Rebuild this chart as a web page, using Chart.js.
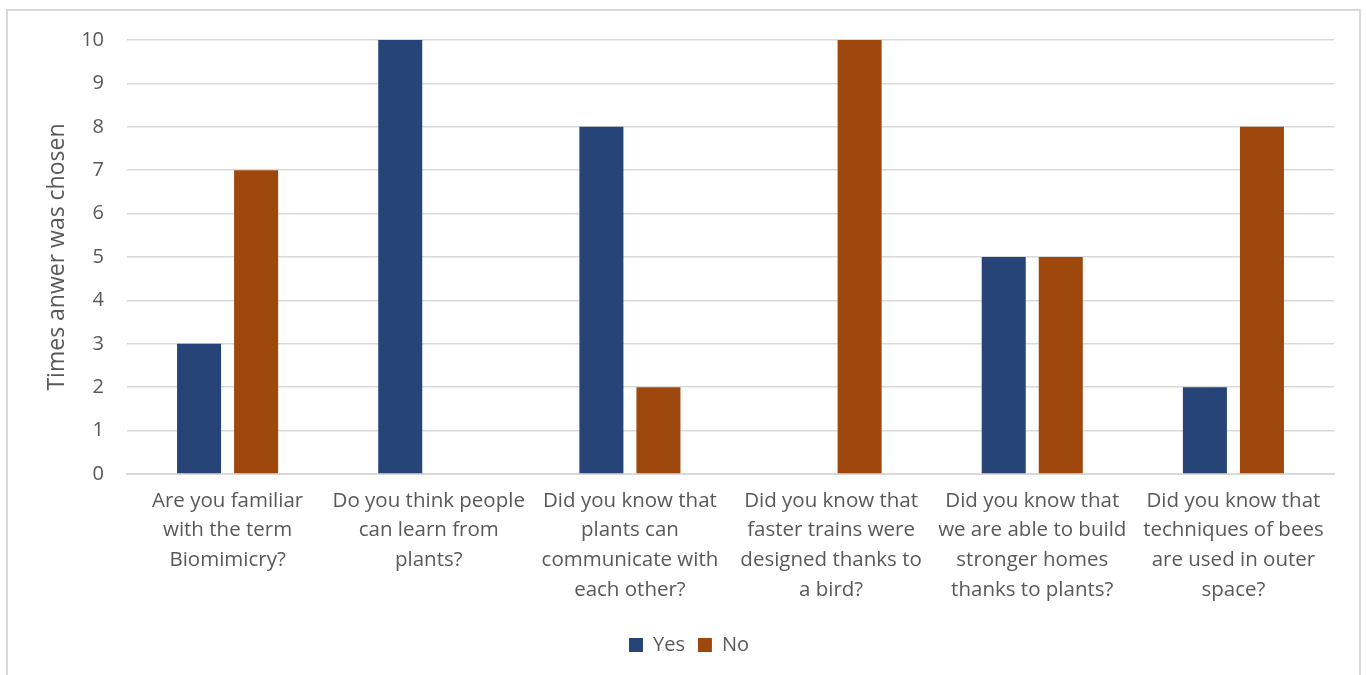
<!DOCTYPE html>
<html>
<head>
<meta charset="utf-8">
<script src="https://cdn.jsdelivr.net/npm/chart.js@4/dist/chart.umd.min.js"></script>
<style>
html,body{margin:0;padding:0;background:#fff;}
#wrap{position:absolute;left:0;top:0;width:1366px;height:675px;}
#frame{position:absolute;left:6px;top:9px;width:1355px;height:700px;border:2px solid #d9d9d9;box-sizing:border-box;}
canvas{position:absolute;left:0;top:0;}
</style>
</head>
<body>
<div id="wrap"><div id="frame"></div><canvas id="c" width="1366" height="675"></canvas></div>
<script>
const categories = [
  ["Are you familiar","with the term","Biomimicry?"],
  ["Do you think people","can learn from","plants?"],
  ["Did you know that","plants can","communicate with","each other?"],
  ["Did you know that","faster trains were","designed thanks to","a bird?"],
  ["Did you know that","we are able to build","stronger homes","thanks to plants?"],
  ["Did you know that","techniques of bees","are used in outer","space?"]
];
const yesValues = [3, 10, 8, 0, 5, 2];
const noValues  = [7, 0, 2, 10, 5, 8];
const seriesNames = ["Yes", "No"];
const yAxisTitle = "Times anwer was chosen";

const FONT = "'Open Sans', Lato, sans-serif";
const TXT = "#595959";
const GRID = "#d9d9d9";

new Chart(document.getElementById('c'), {
  type: 'bar',
  data: {
    labels: categories,
    datasets: [
      {label: seriesNames[0], data: yesValues, backgroundColor: '#264478', categoryPercentage: 0.567, barPercentage: 0.772},
      {label: seriesNames[1], data: noValues, backgroundColor: '#9e480e', categoryPercentage: 0.567, barPercentage: 0.772}
    ]
  },
  options: {
    responsive: false,
    animation: false,
    devicePixelRatio: 1,
    layout: {padding: {left: 44, right: 32, top: 40, bottom: 10}},
    plugins: {
      legend: {
        position: 'bottom',
        labels: {font: {family: FONT, size: 20}, color: TXT, boxWidth: 14, boxHeight: 14, padding: 13}
      },
      tooltip: {enabled: false}
    },
    scales: {
      x: {
        grid: {display: false, drawTicks: false},
        border: {color: GRID, width: 2},
        ticks: {font: {family: FONT, size: 20.5, lineHeight: 1.45}, color: TXT, padding: 12, maxRotation: 0, autoSkip: false},
        afterFit: s => { s.height = 148; }
      },
      y: {
        min: 0, max: 10,
        ticks: {stepSize: 1, font: {family: FONT, size: 20}, color: TXT, padding: 23},
        grid: {color: GRID, lineWidth: 1.5, drawTicks: false},
        border: {display: false},
        title: {display: true, text: yAxisTitle, font: {family: FONT, size: 23}, color: TXT, padding: {top: 0, bottom: 12}},
        afterFit: s => { s.width = 83; }
      }
    }
  }
});
</script>
</body>
</html>
